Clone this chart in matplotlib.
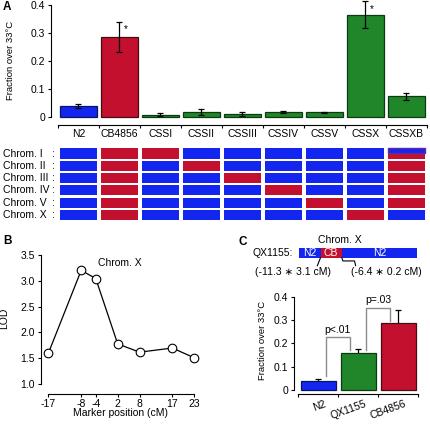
import matplotlib.pyplot as plt
import matplotlib.patches as mpatches
import matplotlib.transforms as mtransforms
import numpy as np

plt.rcParams['font.family'] = ['Liberation Sans', 'DejaVu Sans']
plt.rcParams['font.size'] = 7.5
plt.rcParams['axes.unicode_minus'] = False

# ---- data ----
strains = ["N2", "CB4856", "CSSI", "CSSII", "CSSIII", "CSSIV", "CSSV", "CSSX", "CSSXB"]
fraction = [0.039, 0.286, 0.010, 0.019, 0.012, 0.020, 0.019, 0.365, 0.075]
fraction_err = [0.007, 0.055, 0.004, 0.010, 0.008, 0.004, 0.002, 0.048, 0.013]
strain_kind = ["N2", "CB", "CSS", "CSS", "CSS", "CSS", "CSS", "CSS", "CSS"]
starred = ["CB4856", "CSSX"]

chromosomes = ["I", "II", "III", "IV", "V", "X"]
# one string per strain, one letter per chromosome: N = N2, C = CB4856, M = mixed
genotypes = ["NNNNNN", "CCCCCC", "CNNNNN", "NCNNNN", "NNCNNN",
             "NNNCNN", "NNNNCN", "NNNNNC", "MCCCCN"]

marker_pos = [-17, -8, -4, 2, 8, 17, 23]
lod = [1.60, 3.20, 3.04, 1.78, 1.62, 1.70, 1.51]

strains_c = ["N2", "QX1155", "CB4856"]
fraction_c = [0.040, 0.160, 0.286]
fraction_c_err = [0.008, 0.015, 0.057]
pvals = [(0, 1, "p<.01", 0.226), (1, 2, "p=.03", 0.353)]

qx_segments = ["N2", "CB", "N2"]
qx_widths = [1.0, 1.0, 3.55]
qx_notes = ["(-11.3 \u2217 3.1 cM)", "(-6.4 \u2217 0.2 cM)"]

# ---- colours ----
BLUE = "#1226f0"
RED = "#c4102f"
GREEN = "#21862a"
PURPLE = "#5a2aa8"
kind_color = {"N2": BLUE, "CB": RED, "CSS": GREEN}
kind_edge = {"N2": "#0a1460", "CB": "#4a0a14", "CSS": "#0e3a12"}
geno_color = {"N": BLUE, "C": RED}

W, H = 430, 425
fig = plt.figure(figsize=(W / 100, H / 100), dpi=100)


def box(left, top, right, bottom):
    return [left / W, 1 - bottom / H, (right - left) / W, (bottom - top) / H]


# ================= Panel A: bars =================
axA = fig.add_axes(box(51, 5, 427, 125))
x = np.arange(len(strains))
axA.bar(x, fraction, width=0.9,
        color=[kind_color[k] for k in strain_kind],
        edgecolor=[kind_edge[k] for k in strain_kind], linewidth=0.9, zorder=2)
axA.errorbar(x, fraction, yerr=fraction_err, fmt="none", ecolor="black",
             elinewidth=0.9, capsize=2.5, capthick=0.9, zorder=3, clip_on=False)
for i, s in enumerate(strains):
    if s in starred:
        axA.text(i + 0.15, fraction[i] + fraction_err[i] - 0.028, "*",
                 ha="center", va="center", fontsize=7)
axA.set_xlim(-0.67, 8.5)
axA.set_ylim(-0.027, 0.4)
for sp in ["top", "right"]:
    axA.spines[sp].set_visible(False)
axA.spines["left"].set_bounds(0, 0.4)
axA.spines["bottom"].set_bounds(-0.5, 8.5)
axA.set_xticks(np.arange(-0.5, 9, 1))
axA.set_xticklabels([])
axA.set_yticks([0, 0.1, 0.2, 0.3, 0.4])
axA.set_yticklabels(["0", "0.1", "0.2", "0.3", "0.4"])
axA.tick_params(direction="out", length=2.5, width=0.8, labelsize=7.5, pad=1.5)
axA.set_ylabel("Fraction over 33\u00b0C", fontsize=6.8)
axA.yaxis.set_label_coords(-0.096, 0.54)

# ================= Panel A: genotype grid =================
axG = fig.add_axes(box(51, 128, 427, 222))
axG.set_xlim(-0.67, 8.5)
axG.set_ylim(5.58, -2.08)
axG.axis("off")
cell_w, cell_h = 0.9, 0.83
for i, g in enumerate(genotypes):
    for j, c in enumerate(g):
        x0, y0 = i - cell_w / 2, j - cell_h / 2
        if c == "M":
            axG.add_patch(mpatches.Rectangle((x0, y0), cell_w, cell_h,
                                             facecolor=RED, edgecolor="none"))
            axG.add_patch(mpatches.Rectangle((x0, y0), cell_w, cell_h * 0.45,
                                             facecolor=BLUE, edgecolor=PURPLE,
                                             linewidth=1.0))
        else:
            axG.add_patch(mpatches.Rectangle((x0, y0), cell_w, cell_h,
                                             facecolor=geno_color[c],
                                             edgecolor="none"))
for i, s in enumerate(strains):
    axG.text(i, -1.58, s, ha="center", va="center", fontsize=7.5)
trG = mtransforms.blended_transform_factory(axG.transAxes, axG.transData)
for j, ch in enumerate(chromosomes):
    axG.text(-0.128, j, "Chrom. " + ch, transform=trG, ha="left", va="center",
             fontsize=7.5)
    axG.text(0.009, j, ":", transform=trG, ha="right", va="center", fontsize=7.5)

# ================= Panel B: LOD =================
axB = fig.add_axes(box(40.7, 252.2, 201.6, 393.6))
axB.plot(marker_pos, lod, color="black", linewidth=0.9, marker="o",
         markersize=6.2, markerfacecolor="white", markeredgecolor="black",
         markeredgewidth=0.8, clip_on=False)
axB.set_xlim(-19.1, 25)
axB.set_ylim(0.82, 3.55)
for sp in ["top", "right"]:
    axB.spines[sp].set_visible(False)
axB.spines["left"].set_bounds(1.0, 3.5)
axB.spines["bottom"].set_bounds(-17, 23)
axB.set_xticks(marker_pos)
axB.set_yticks([1.0, 1.5, 2.0, 2.5, 3.0, 3.5])
axB.set_yticklabels(["1.0", "1.5", "2.0", "2.5", "3.0", "3.5"])
axB.tick_params(direction="out", length=2.5, width=0.8, labelsize=7.5, pad=1.5)
axB.set_ylabel("LOD", fontsize=7.5)
axB.yaxis.set_label_coords(-0.198, 0.535)
axB.set_xlabel("Marker position (cM)", fontsize=7.5)
axB.xaxis.set_label_coords(0.493, -0.10)
axB.text(2.6, 3.34, "Chrom. X", ha="center", va="center", fontsize=7.5)

# ================= Panel C: bars =================
axC = fig.add_axes(box(294, 296.8, 419.3, 394.2))
xc = np.arange(len(strains_c))
kinds_c = ["N2", "CSS", "CB"]
axC.errorbar(xc, fraction_c, yerr=fraction_c_err, fmt="none", ecolor="black",
             elinewidth=0.9, capsize=2.5, capthick=0.9, zorder=1, clip_on=False)
axC.bar(xc, fraction_c, width=0.87,
        color=[kind_color[k] for k in kinds_c],
        edgecolor=[kind_edge[k] for k in kinds_c], linewidth=0.9, zorder=2)
for a, b, label, top in pvals:
    xa, xb = a + 0.18, b - 0.21
    ya = fraction_c[a] + (fraction_c_err[a] + 0.012 if a == 0 else 0.01)
    yb = fraction_c[b] + 0.01
    axC.plot([xa, xa, xb, xb], [ya, top, top, yb], color="0.55",
             linewidth=1.0, zorder=3, clip_on=False)
    axC.text((xa + xb) / 2, top + 0.012, label, ha="center", va="bottom",
             fontsize=7.5)
axC.set_xlim(-0.61, 2.52)
axC.set_ylim(-0.018, 0.4)
for sp in ["top", "right"]:
    axC.spines[sp].set_visible(False)
axC.spines["left"].set_bounds(0, 0.4)
axC.spines["bottom"].set_bounds(-0.5, 2.5)
axC.set_xticks(np.arange(-0.5, 3, 1))
axC.set_xticklabels([])
axC.set_yticks([0, 0.1, 0.2, 0.3, 0.4])
axC.set_yticklabels(["0", "0.1", "0.2", "0.3", "0.4"])
axC.tick_params(direction="out", length=2.5, width=0.8, labelsize=7.5, pad=1.5)
trC = mtransforms.blended_transform_factory(axC.transData, axC.transAxes)
for i, s in enumerate(strains_c):
    axC.text(i + 0.15, -0.05, s, transform=trC, ha="right", va="top",
             rotation=20, rotation_mode="anchor", fontsize=7.5)
axC.set_ylabel("Fraction over 33\u00b0C", fontsize=6.8)
axC.yaxis.set_label_coords(-0.218, 0.556)

# ================= Panel C: QX1155 diagram =================
axD = fig.add_axes(box(240, 232, 430, 282))
axD.set_xlim(-2.79, 6.15)
axD.set_ylim(-2.59, 2.73)
axD.axis("off")
edges = np.concatenate([[0], np.cumsum(qx_widths)])
for k, seg in enumerate(qx_segments):
    axD.add_patch(mpatches.Rectangle((edges[k], 0), qx_widths[k], 1,
                                     facecolor=geno_color[seg[0]],
                                     edgecolor="none"))
    axD.text((edges[k] + edges[k + 1]) / 2, 0.45, seg, color="white",
             ha="center", va="center", fontsize=7.5)
axD.text(-0.3, 0.5, "QX1155:", ha="right", va="center", fontsize=7.5)
axD.text(edges[-1] / 2 - 0.85, 1.9, "Chrom. X", ha="center", va="center",
         fontsize=7.5)
axD.plot([edges[1], edges[1] - 0.15], [0, -0.85], color="black", linewidth=0.8)
axD.plot([edges[2], edges[2] + 0.05, edges[2] + 0.6, edges[2] + 0.65],
         [0, -0.35, -0.35, -0.85], color="black", linewidth=0.8)
axD.text(-0.3, -1.55, qx_notes[0], ha="center", va="center", fontsize=7.5)
axD.text(4.11, -1.55, qx_notes[1], ha="center", va="center", fontsize=7.5)

# ---- panel letters ----
for letter, px, py in [("A", 7, 7), ("B", 7, 241), ("C", 243, 242)]:
    fig.text(px / W, 1 - py / H, letter, ha="center", va="center",
             fontsize=8.5, fontweight="bold")

fig.savefig("out.png", dpi=100)
